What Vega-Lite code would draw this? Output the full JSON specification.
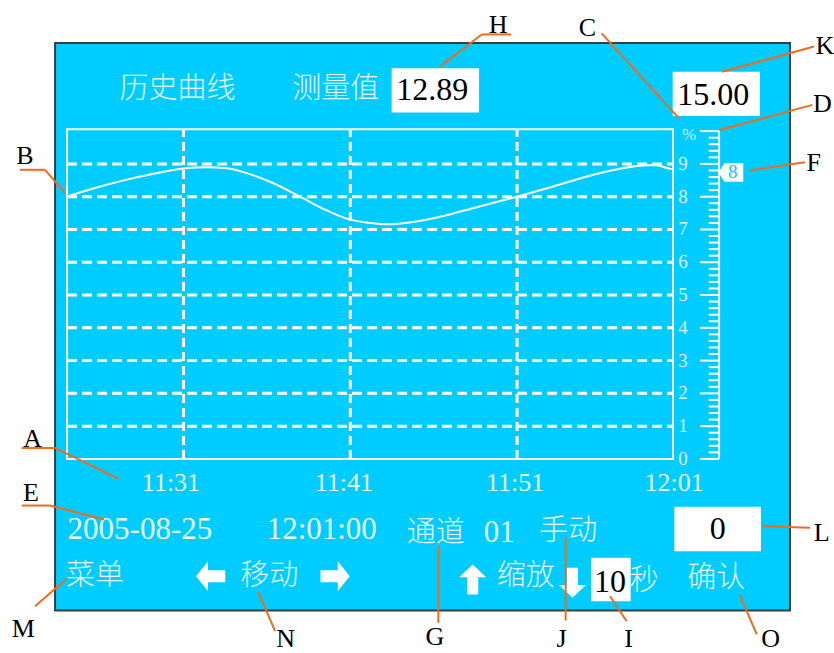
{
  "$schema": "https://vega.github.io/schema/vega-lite/v6.json",
  "width": 834,
  "height": 653,
  "autosize": {"type": "none"},
  "padding": 0,
  "background": "#ffffff",
  "config": {"view": {"stroke": null}},
  "encoding": {
    "x": {"field": "t", "type": "quantitative", "scale": {"domain": [20, 70], "nice": false, "zero": false}, "axis": null},
    "y": {"field": "v", "type": "quantitative", "scale": {"domain": [-5.92, 14], "nice": false, "zero": false}, "axis": null}
  },
  "layer": [
    {
      "data": {"values": [{"t": 23.30, "t2": 67.36, "v": 12.69, "v2": -4.62}]},
      "mark": {"type": "rect", "fill": "#00ccff", "stroke": "#3c3c3c", "strokeWidth": 2},
      "encoding": {"x2": {"field": "t2"}, "y2": {"field": "v2"}}
    },
    {
      "data": {"values": [{"t": 24.02, "t2": 60.35, "v": 0, "v2": 10.06}]},
      "mark": {"type": "rect", "fillOpacity": 0, "stroke": "#ffffff", "strokeWidth": 2},
      "encoding": {"x2": {"field": "t2"}, "y2": {"field": "v2"}}
    },
    {
      "data": {"values": [
        {"t": 24.02, "t2": 60.35, "v": 1}, {"t": 24.02, "t2": 60.35, "v": 2}, {"t": 24.02, "t2": 60.35, "v": 3},
        {"t": 24.02, "t2": 60.35, "v": 4}, {"t": 24.02, "t2": 60.35, "v": 5}, {"t": 24.02, "t2": 60.35, "v": 6},
        {"t": 24.02, "t2": 60.35, "v": 7}, {"t": 24.02, "t2": 60.35, "v": 8}, {"t": 24.02, "t2": 60.35, "v": 9}
      ]},
      "mark": {"type": "rule", "color": "#ffffff", "strokeWidth": 3, "strokeDash": [10, 5]},
      "encoding": {"x2": {"field": "t2"}}
    },
    {
      "data": {"values": [
        {"t": 31, "v": 0, "v2": 10.06}, {"t": 41, "v": 0, "v2": 10.06}, {"t": 51, "v": 0, "v2": 10.06}
      ]},
      "mark": {"type": "rule", "color": "#ffffff", "strokeWidth": 3, "strokeDash": [9, 5]},
      "encoding": {"y2": {"field": "v2"}}
    },
    {
      "data": {"values": [
        {"t": 24.00, "v": 8.00}, {"t": 25.59, "v": 8.25}, {"t": 27.60, "v": 8.52}, {"t": 29.59, "v": 8.74},
        {"t": 30.99, "v": 8.86}, {"t": 32.39, "v": 8.90}, {"t": 33.59, "v": 8.87}, {"t": 34.79, "v": 8.72},
        {"t": 36.39, "v": 8.41}, {"t": 37.99, "v": 8.00}, {"t": 39.59, "v": 7.58}, {"t": 40.98, "v": 7.30},
        {"t": 42.18, "v": 7.20}, {"t": 43.18, "v": 7.16}, {"t": 44.78, "v": 7.23}, {"t": 46.58, "v": 7.41},
        {"t": 48.58, "v": 7.68}, {"t": 50.98, "v": 8.00}, {"t": 53.17, "v": 8.31}, {"t": 55.57, "v": 8.67},
        {"t": 57.57, "v": 8.89}, {"t": 58.77, "v": 8.96}, {"t": 59.37, "v": 8.96}, {"t": 59.87, "v": 8.89},
        {"t": 60.27, "v": 8.84}
      ]},
      "mark": {"type": "line", "color": "#ffffff", "strokeWidth": 2, "interpolate": "monotone"}
    },
    {
      "data": {"values": [{"t": 63.11, "v": 0, "v2": 10}]},
      "mark": {"type": "rule", "color": "#ffffff", "strokeWidth": 2},
      "encoding": {"y2": {"field": "v2"}}
    },
    {
      "data": {"values": [
        {"t": 61.97, "t2": 63.11, "v": 0}, {"t": 61.97, "t2": 63.11, "v": 1}, {"t": 61.97, "t2": 63.11, "v": 2},
        {"t": 61.97, "t2": 63.11, "v": 3}, {"t": 61.97, "t2": 63.11, "v": 4}, {"t": 61.97, "t2": 63.11, "v": 5},
        {"t": 61.97, "t2": 63.11, "v": 6}, {"t": 61.97, "t2": 63.11, "v": 7}, {"t": 61.97, "t2": 63.11, "v": 8},
        {"t": 61.97, "t2": 63.11, "v": 9}, {"t": 61.97, "t2": 63.11, "v": 10},
        {"t": 62.49, "t2": 63.11, "v": 0.2}, {"t": 62.49, "t2": 63.11, "v": 0.4}, {"t": 62.49, "t2": 63.11, "v": 0.6}, {"t": 62.49, "t2": 63.11, "v": 0.8},
        {"t": 62.49, "t2": 63.11, "v": 1.2}, {"t": 62.49, "t2": 63.11, "v": 1.4}, {"t": 62.49, "t2": 63.11, "v": 1.6}, {"t": 62.49, "t2": 63.11, "v": 1.8},
        {"t": 62.49, "t2": 63.11, "v": 2.2}, {"t": 62.49, "t2": 63.11, "v": 2.4}, {"t": 62.49, "t2": 63.11, "v": 2.6}, {"t": 62.49, "t2": 63.11, "v": 2.8},
        {"t": 62.49, "t2": 63.11, "v": 3.2}, {"t": 62.49, "t2": 63.11, "v": 3.4}, {"t": 62.49, "t2": 63.11, "v": 3.6}, {"t": 62.49, "t2": 63.11, "v": 3.8},
        {"t": 62.49, "t2": 63.11, "v": 4.2}, {"t": 62.49, "t2": 63.11, "v": 4.4}, {"t": 62.49, "t2": 63.11, "v": 4.6}, {"t": 62.49, "t2": 63.11, "v": 4.8},
        {"t": 62.49, "t2": 63.11, "v": 5.2}, {"t": 62.49, "t2": 63.11, "v": 5.4}, {"t": 62.49, "t2": 63.11, "v": 5.6}, {"t": 62.49, "t2": 63.11, "v": 5.8},
        {"t": 62.49, "t2": 63.11, "v": 6.2}, {"t": 62.49, "t2": 63.11, "v": 6.4}, {"t": 62.49, "t2": 63.11, "v": 6.6}, {"t": 62.49, "t2": 63.11, "v": 6.8},
        {"t": 62.49, "t2": 63.11, "v": 7.2}, {"t": 62.49, "t2": 63.11, "v": 7.4}, {"t": 62.49, "t2": 63.11, "v": 7.6}, {"t": 62.49, "t2": 63.11, "v": 7.8},
        {"t": 62.49, "t2": 63.11, "v": 8.2}, {"t": 62.49, "t2": 63.11, "v": 8.4}, {"t": 62.49, "t2": 63.11, "v": 8.6}, {"t": 62.49, "t2": 63.11, "v": 8.8},
        {"t": 62.49, "t2": 63.11, "v": 9.2}, {"t": 62.49, "t2": 63.11, "v": 9.4}, {"t": 62.49, "t2": 63.11, "v": 9.6}, {"t": 62.49, "t2": 63.11, "v": 9.8}
      ]},
      "mark": {"type": "rule", "color": "#ffffff", "strokeWidth": 2},
      "encoding": {"x2": {"field": "t2"}}
    },
    {
      "data": {"values": [
        {"t": 60.95, "v": 0, "label": "0"}, {"t": 60.95, "v": 1, "label": "1"}, {"t": 60.95, "v": 2, "label": "2"},
        {"t": 60.95, "v": 3, "label": "3"}, {"t": 60.95, "v": 4, "label": "4"}, {"t": 60.95, "v": 5, "label": "5"},
        {"t": 60.95, "v": 6, "label": "6"}, {"t": 60.95, "v": 7, "label": "7"}, {"t": 60.95, "v": 8, "label": "8"},
        {"t": 60.95, "v": 9, "label": "9"}
      ]},
      "mark": {"type": "text", "font": "Liberation Serif", "fontSize": 19, "color": "#d9f7ff", "align": "center", "baseline": "middle"},
      "encoding": {"text": {"field": "label"}}
    },
    {
      "data": {"values": [{"t": 61.31, "v": 9.885, "label": "%"}]},
      "mark": {"type": "text", "font": "Liberation Serif", "fontSize": 17, "color": "#d9f7ff", "align": "center", "baseline": "middle"},
      "encoding": {"text": {"field": "label"}}
    },
    {
      "data": {"values": [{"t": 63.81, "v": 8.74}]},
      "mark": {"type": "point", "shape": "M -1 0 L -0.5 -0.74 L 1 -0.74 L 1 0.74 L -0.5 0.74 Z", "size": 625, "filled": true, "fill": "#ffffff", "opacity": 1, "strokeWidth": 0}
    },
    {
      "data": {"values": [{"t": 63.93, "v": 8.76, "label": "8"}]},
      "mark": {"type": "text", "font": "Liberation Serif", "fontSize": 19, "color": "#00ccff", "align": "center", "baseline": "middle"},
      "encoding": {"text": {"field": "label"}}
    },
    {
      "data": {"values": [
        {"t": 43.48, "t2": 48.72, "v": 11.92, "v2": 10.57},
        {"t": 60.33, "t2": 65.56, "v": 11.81, "v2": 10.46},
        {"t": 60.43, "t2": 65.62, "v": -1.462, "v2": -2.815},
        {"t": 55.43, "t2": 57.81, "v": -3.016, "v2": -4.339}
      ]},
      "mark": {"type": "rect", "fill": "#ffffff"},
      "encoding": {"x2": {"field": "t2"}, "y2": {"field": "v2"}}
    },
    {
      "data": {"values": [
        {"t": 45.91, "v": 11.26, "label": "12.89"},
        {"t": 62.76, "v": 11.10, "label": "15.00"},
        {"t": 63.03, "v": -2.139, "label": "0"},
        {"t": 56.57, "v": -3.769, "label": "10"}
      ]},
      "mark": {"type": "text", "font": "Liberation Serif", "fontSize": 32, "color": "#000000", "align": "center", "baseline": "middle"},
      "encoding": {"text": {"field": "label"}}
    },
    {
      "data": {"values": [
        {"t": 30.64, "v": 11.29, "label": "历史曲线"},
        {"t": 40.13, "v": 11.29, "label": "测量值"},
        {"t": 46.13, "v": -2.254, "label": "通道"},
        {"t": 54.07, "v": -2.206, "label": "手动"},
        {"t": 25.70, "v": -3.577, "label": "菜单"},
        {"t": 36.14, "v": -3.577, "label": "移动"},
        {"t": 51.52, "v": -3.577, "label": "缩放"},
        {"t": 58.62, "v": -3.73, "label": "秒"},
        {"t": 62.94, "v": -3.626, "label": "确认"}
      ]},
      "mark": {"type": "text", "font": "Noto Sans CJK SC", "fontSize": 29, "fontWeight": 300, "color": "#e6faff", "align": "center", "baseline": "middle"},
      "encoding": {"text": {"field": "label"}}
    },
    {
      "data": {"values": [
        {"t": 28.39, "v": -2.163, "label": "2005-08-25"},
        {"t": 39.29, "v": -2.154, "label": "12:01:00"},
        {"t": 49.93, "v": -2.254, "label": "01"}
      ]},
      "mark": {"type": "text", "font": "Liberation Serif", "fontSize": 31, "color": "#e6faff", "align": "center", "baseline": "middle"},
      "encoding": {"text": {"field": "label"}}
    },
    {
      "data": {"values": [
        {"t": 30.25, "v": -0.721, "label": "11:31"},
        {"t": 40.62, "v": -0.721, "label": "11:41"},
        {"t": 50.88, "v": -0.721, "label": "11:51"},
        {"t": 60.41, "v": -0.721, "label": "12:01"}
      ]},
      "mark": {"type": "text", "font": "Liberation Serif", "fontSize": 26, "color": "#e6faff", "align": "center", "baseline": "middle"},
      "encoding": {"text": {"field": "label"}}
    },
    {
      "data": {"values": [
        {"t": 32.65, "v": -3.577, "dir": "left"},
        {"t": 40.07, "v": -3.577, "dir": "right"},
        {"t": 48.34, "v": -3.678, "dir": "up"},
        {"t": 54.32, "v": -3.778, "dir": "down"}
      ]},
      "mark": {"type": "point", "size": 900, "filled": true, "fill": "#ffffff", "opacity": 1, "strokeWidth": 0},
      "encoding": {
        "shape": {
          "field": "dir", "type": "nominal", "legend": null,
          "scale": {
            "domain": ["left", "right", "up", "down"],
            "range": [
              "M -1 0 L -0.2 -1 L -0.2 -0.4 L 0.95 -0.4 L 0.95 0.4 L -0.2 0.4 L -0.2 1 Z",
              "M 1 0 L 0.2 -1 L 0.2 -0.4 L -0.95 -0.4 L -0.95 0.4 L 0.2 0.4 L 0.2 1 Z",
              "M 0 -1 L 0.9 -0.15 L 0.37 -0.15 L 0.37 1 L -0.37 1 L -0.37 -0.15 L -0.9 -0.15 Z",
              "M 0 1 L 0.9 0.15 L 0.37 0.15 L 0.37 -1 L -0.37 -1 L -0.37 0.15 L -0.9 0.15 Z"
            ]
          }
        }
      }
    },
    {
      "data": {"values": [
        {"t": 48.88, "v": 12.95, "t2": 50.64, "v2": 12.95},
        {"t": 48.88, "v": 12.95, "t2": 46.38, "v2": 11.97},
        {"t": 56.07, "v": 12.98, "t2": 60.71, "v2": 10.39},
        {"t": 68.80, "v": 12.58, "t2": 63.30, "v2": 11.81},
        {"t": 68.70, "v": 10.80, "t2": 63.17, "v2": 10.04},
        {"t": 68.26, "v": 9.05, "t2": 64.92, "v2": 8.80},
        {"t": 21.20, "v": 8.82, "t2": 22.70, "v2": 8.82},
        {"t": 22.70, "v": 8.82, "t2": 23.90, "v2": 8.11},
        {"t": 21.30, "v": 0.336, "t2": 23.30, "v2": 0.336},
        {"t": 23.30, "v": 0.336, "t2": 27.09, "v2": -0.599},
        {"t": 21.30, "v": -1.422, "t2": 23.00, "v2": -1.422},
        {"t": 23.00, "v": -1.422, "t2": 26.23, "v2": -1.849},
        {"t": 22.10, "v": -4.491, "t2": 24.00, "v2": -3.657},
        {"t": 36.49, "v": -5.25, "t2": 35.49, "v2": -4.065},
        {"t": 46.28, "v": -2.663, "t2": 46.28, "v2": -5.0},
        {"t": 53.91, "v": -2.407, "t2": 53.91, "v2": -4.93},
        {"t": 56.57, "v": -4.187, "t2": 57.57, "v2": -4.95},
        {"t": 64.36, "v": -4.165, "t2": 65.37, "v2": -5.35},
        {"t": 68.56, "v": -2.102, "t2": 65.73, "v2": -2.053}
      ]},
      "mark": {"type": "rule", "color": "#f26a1b", "strokeWidth": 2},
      "encoding": {"x2": {"field": "t2"}, "y2": {"field": "v2"}}
    },
    {
      "data": {"values": [
        {"t": 49.86, "v": 13.24, "label": "H"},
        {"t": 55.22, "v": 13.16, "label": "C"},
        {"t": 69.46, "v": 12.60, "label": "K"},
        {"t": 69.31, "v": 10.82, "label": "D"},
        {"t": 68.78, "v": 9.03, "label": "F"},
        {"t": 21.50, "v": 9.25, "label": "B"},
        {"t": 21.95, "v": 0.614, "label": "A"},
        {"t": 21.86, "v": -1.035, "label": "E"},
        {"t": 21.40, "v": -5.177, "label": "M"},
        {"t": 37.13, "v": -5.48, "label": "N"},
        {"t": 46.08, "v": -5.43, "label": "G"},
        {"t": 53.67, "v": -5.48, "label": "J"},
        {"t": 57.69, "v": -5.48, "label": "I"},
        {"t": 66.20, "v": -5.5, "label": "O"},
        {"t": 69.26, "v": -2.245, "label": "L"}
      ]},
      "mark": {"type": "text", "font": "Liberation Serif", "fontSize": 26, "color": "#000000", "align": "center", "baseline": "middle"},
      "encoding": {"text": {"field": "label"}}
    }
  ]
}
